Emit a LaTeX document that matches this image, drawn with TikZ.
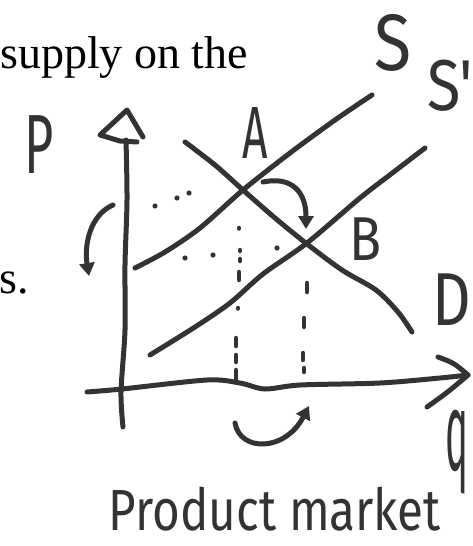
\documentclass[tikz,border=0pt]{standalone}
\usepackage{fontspec}
\setmainfont{Liberation Serif}
\newfontfamily\handfont{Fira Sans}
\newcommand{\handat}[1]{\handfont\fontsize{#1}{#1}\selectfont}
\usepackage{tikz}
\usetikzlibrary{arrows.meta}
\definecolor{ink}{HTML}{333333}

\begin{document}
\begin{tikzpicture}[x=1pt, y=-1pt,
  pen/.style={draw=ink, line width=5pt, line cap=round, line join=round},
  guide/.style={draw=ink, line width=4.5pt, line cap=round},
  bendarr/.style={pen, -{Triangle[length=13pt,width=15pt]}},
  hand/.style={text=ink, inner sep=0pt},
  printed/.style={inner sep=0pt, font=\fontsize{46}{55}\selectfont}
]
\useasboundingbox (0,0) rectangle (472,546);

\node[printed, anchor=base west] (txtTop) at (0,68) {supply on the};
\node[printed, anchor=base west] (txtMid) at (-1,293) {s.};

% axes
\coordinate (yTop) at (127,110);
\coordinate (xTip) at (468,375);
\draw[pen] plot[smooth] coordinates {(123,427) (121,392) (125,330) (125,265) (127,200) (126,140)};
\draw[pen] (143,137) -- (yTop) -- (100,135) -- (120,141) -- (137,142);
\draw[pen] plot[smooth] coordinates {(87,392) (122,389) (207,380) (240,383) (265,389) (300,385) (380,383) (440,378) (468,375)};
\draw[pen] (438,357) .. controls (454,363) .. (xTip) .. controls (448,392) .. (427,407);

% curves
\coordinate (ptA) at (243,190);
\coordinate (ptB) at (307,244);
\draw[pen] plot[smooth] coordinates {(135,268) (165,252) (200,228) (243,190) (290,153) (335,120) (372,95)};
\draw[pen] plot[smooth] coordinates {(150,355) (195,327) (230,303) (263,274) (307,243) (360,198) (395,171) (425,148)};
\draw[pen] plot[smooth] coordinates {(185,142) (215,165) (243,190) (275,218) (307,244) (342,270) (376,290) (398,312) (412,332)};

% guide dots
\foreach \x/\y in {155/206, 177/198, 189/193, 185/258, 213/255, 277/248}
  \fill[ink] (\x,\y) circle (2.6);
\foreach \x/\ya/\yb in {239/228/228.5, 240/250/251, 240/259/261, 239/272/280, 238/308/308.5,
    236/338/346, 236/355/362, 236/370/380, 307/283/292, 304/318/327, 303/353/360, 304/368/372}
  \draw[guide] (\x,\ya) -- (\x,\yb);

% shifts
\coordinate (pShiftS) at (113,205);
\coordinate (pShiftE) at (89,276);
\coordinate (eqShiftS) at (263,182);
\coordinate (eqShiftE) at (306,229);
\coordinate (qShiftS) at (235,423);
\coordinate (qShiftE) at (309,406);
\draw[bendarr] (pShiftS) .. controls (90,215) and (84,245) .. (pShiftE);
\draw[bendarr] (eqShiftS) .. controls (292,176) and (306,192) .. (eqShiftE);
\draw[bendarr] (qShiftS) .. controls (240,452) and (285,452) .. (qShiftE);

% labels
\node[hand, font=\handat{80}, xscale=0.85, anchor=base] (lblS) at (393,70) {S};
\node[hand, font=\handat{72}, xscale=0.85, anchor=base west] (lblS2) at (427,110) {S'};
\node[hand, font=\handat{74}, xscale=0.6, anchor=base] (lblA) at (255,158) {A};
\node[hand, font=\handat{62}, xscale=0.85, anchor=base] (lblB) at (366,260) {B};
\node[hand, font=\handat{75}, xscale=0.8, anchor=base] (lblD) at (452,325) {D};
\node[hand, font=\handat{84}, xscale=0.6, anchor=base] (lblP) at (39,173) {P};
\node[hand, font=\handat{70}, xscale=0.55, yscale=1.6, anchor=base] (lblQ) at (457,470) {q};
\node[hand, font=\handat{58}, xscale=0.82, anchor=base] (lblMarket) at (275,530) {Product market};
\end{tikzpicture}
\end{document}
